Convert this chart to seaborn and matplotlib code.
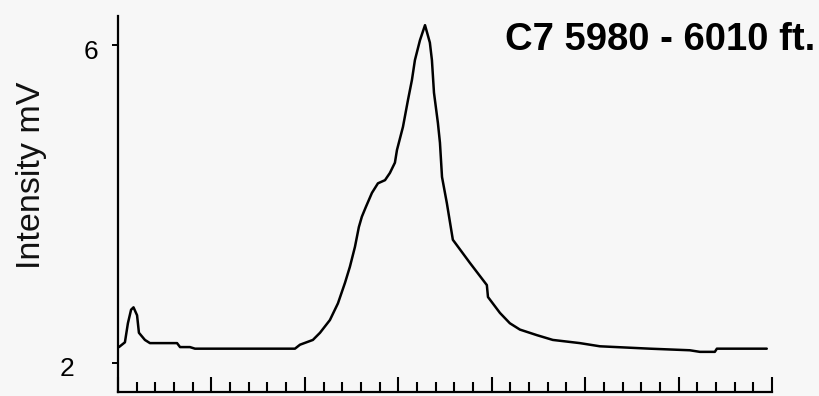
import matplotlib
matplotlib.use("Agg")
import matplotlib.pyplot as plt
from matplotlib.transforms import ScaledTranslation
from matplotlib.ticker import MultipleLocator
import seaborn as sns
import pandas as pd

# Chromatogram trace: retention time (arbitrary units) vs detector intensity (mV)
retention_time = [
    0.05, 0.37, 0.53, 0.70, 0.83, 1.02, 1.12, 1.44, 1.71, 3.16, 3.32, 3.85,
    4.12, 5.46, 9.47, 9.74, 10.43, 10.81, 11.34, 11.77, 12.15, 12.41, 12.68,
    12.89, 13.05, 13.26, 13.59, 13.91, 14.29, 14.55, 14.82, 14.93, 15.25,
    15.52, 15.73, 15.89, 16.16, 16.43, 16.69, 16.80, 16.91, 17.12, 17.23,
    17.34, 17.60, 17.92, 18.14, 18.83, 19.74, 19.80, 20.44, 20.97, 21.51,
    22.42, 23.27, 24.72, 25.79, 28.46, 30.60, 31.14, 31.94, 32.05, 34.72,
]
intensity = [
    2.20, 2.26, 2.50, 2.67, 2.70, 2.60, 2.38, 2.29, 2.25, 2.25, 2.20, 2.20,
    2.18, 2.18, 2.18, 2.23, 2.29, 2.38, 2.54, 2.75, 3.01, 3.21, 3.46,
    3.71, 3.84, 3.96, 4.14, 4.26, 4.30, 4.39, 4.52, 4.68, 4.97,
    5.31, 5.56, 5.81, 6.06, 6.25, 6.03, 5.81, 5.40, 5.02, 4.77,
    4.34, 4.01, 3.55, 3.48, 3.26, 2.98, 2.83, 2.63, 2.50, 2.42,
    2.35, 2.29, 2.25, 2.21, 2.18, 2.16, 2.14, 2.14, 2.18, 2.18,
]
y_ticks = [2, 6]
y_tick_labels = ["2", "6"]
y_label = "Intensity mV"
title = "C7 5980 - 6010 ft."

df = pd.DataFrame({"time": retention_time, "intensity": intensity})

sns.set_theme(style="ticks")
plt.rcParams["font.family"] = ["Liberation Sans", "DejaVu Sans"]
bg = "#f7f7f7"

fig = plt.figure(figsize=(8.2, 3.96), dpi=100, facecolor=bg)
ax = fig.add_axes([118 / 820, 4 / 396, 654 / 820, 376 / 396], facecolor=bg)

sns.lineplot(data=df, x="time", y="intensity", ax=ax, color="black",
             linewidth=1.8, sort=False)

ax.set_xlim(0, 35)
ax.set_ylim(1.635, 6.365)

for side in ("top", "right"):
    ax.spines[side].set_visible(False)
for side in ("left", "bottom"):
    ax.spines[side].set_linewidth(1.6)
    ax.spines[side].set_color("black")

# x axis: inward ticks, long every 5 units, no labels
ax.xaxis.set_major_locator(MultipleLocator(5))
ax.xaxis.set_minor_locator(MultipleLocator(1))
ax.tick_params(axis="x", which="major", direction="in", length=11, width=1.5,
               color="black", labelbottom=False)
ax.tick_params(axis="x", which="minor", direction="in", length=7.5, width=1.5,
               color="black")

# y axis: two outward ticks
ax.set_yticks(y_ticks)
ax.set_yticklabels(y_tick_labels)
ax.tick_params(axis="y", which="major", direction="out", length=4.5, width=1.4,
               color="black", pad=10, labelsize=19, labelcolor="black")
for lab in ax.get_yticklabels():
    dx = -0.23 if lab.get_text() == "2" else 0.0
    lab.set_transform(lab.get_transform()
                      + ScaledTranslation(dx, -0.04, fig.dpi_scale_trans))

ax.set_xlabel("")
ax.set_ylabel(y_label, fontsize=24.5, color="#111111")
ax.yaxis.set_label_coords(-0.108, 0.575)

fig.text(815 / 820, 1 - 50 / 396, title, ha="right", va="baseline",
         fontsize=27.5, fontweight="bold", color="black")

fig.savefig("out.png", dpi=100, facecolor=bg)
